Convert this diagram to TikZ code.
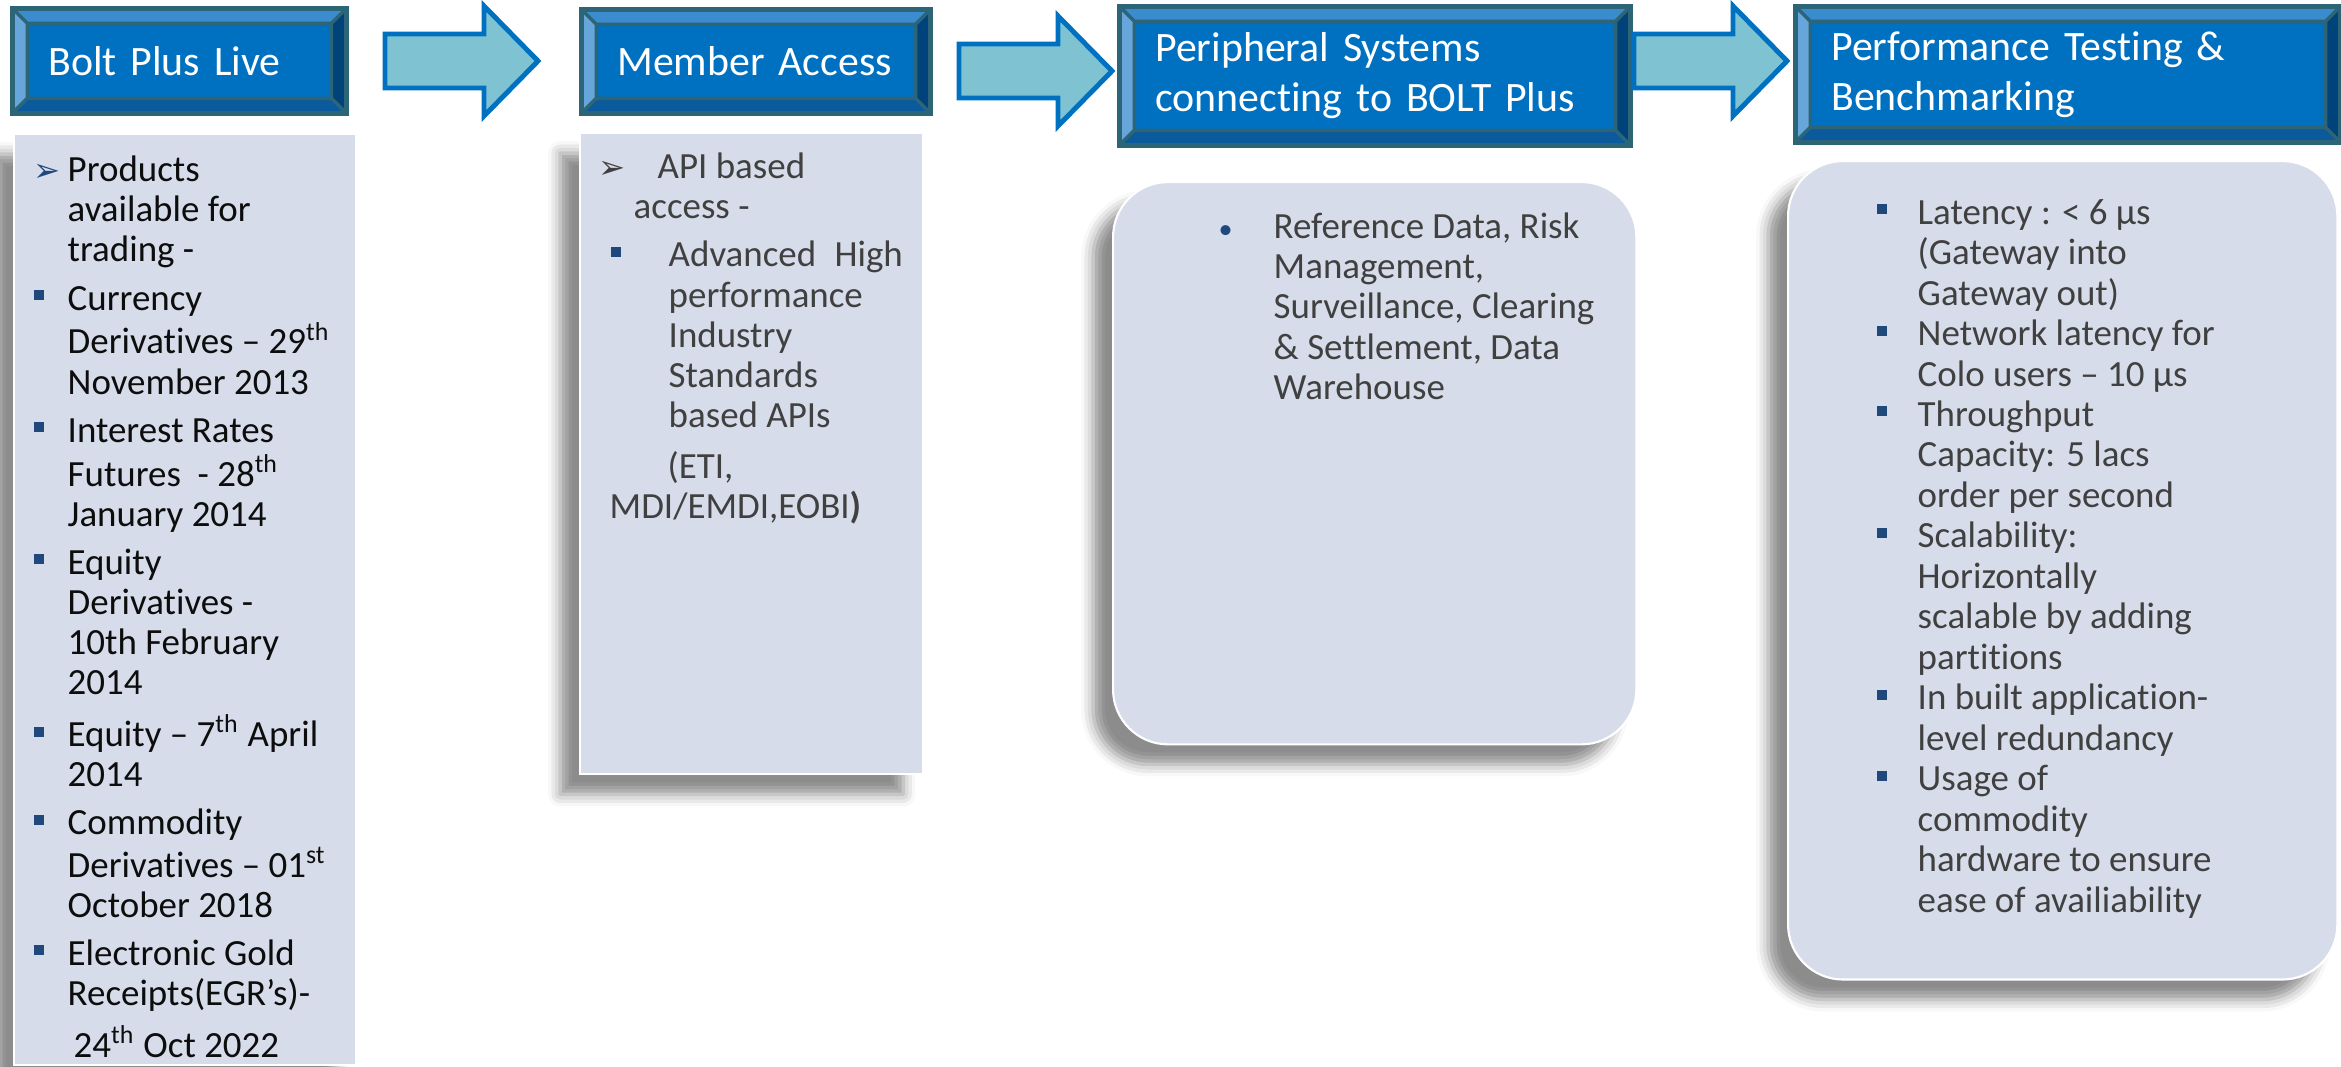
\documentclass[tikz,border=0pt]{standalone}
\usepackage{fontspec}
\setmainfont{Carlito}[Ligatures=NoCommon]
\newfontfamily\dingfont{DejaVu Sans}
\usepackage{array}
\usetikzlibrary{calc,shadows.blur}

\definecolor{hdface}{HTML}{0070C0}
\definecolor{hdedge}{HTML}{2B6577}
\definecolor{bvtop}{HTML}{3A8CCF}
\definecolor{bvleft}{HTML}{67A6DA}
\definecolor{bvright}{HTML}{00427A}
\definecolor{bvbot}{HTML}{0A5A9C}
\definecolor{arrfill}{HTML}{7FC3D3}
\definecolor{panelfill}{HTML}{D6DCE9}
\definecolor{bulblue}{HTML}{1F497D}
\definecolor{txtblack}{HTML}{0D0D0D}
\definecolor{txtgray}{HTML}{404040}

\newcommand{\headfont}{\fontsize{11.9}{14.2}\selectfont}
\newcommand{\bodyfont}{\fontsize{10.5}{11.4}\selectfont}
\newcommand{\sqb}{\textcolor{bulblue}{\rule[0.1cm]{0.1cm}{0.1cm}}}
\newcommand{\dotb}{\textcolor{bulblue}{\fontsize{8}{9}\selectfont •}}
\newcommand{\arrb}[1]{\textcolor{#1}{\dingfont\fontsize{9.2}{9}\selectfont ➢}}

\tikzset{
    head/.style = {draw=hdedge, line width=1.3pt, fill=hdface, rectangle,
        anchor=north west, inner xsep=0.36cm, inner ysep=0pt,
        align=left, text=white, font=\headfont, bevel},
    bevel/.style = {path picture={
        \coordinate (p1) at (path picture bounding box.north west);
        \coordinate (p2) at (path picture bounding box.north east);
        \coordinate (p3) at (path picture bounding box.south east);
        \coordinate (p4) at (path picture bounding box.south west);
        \coordinate (q1) at ($(p1)+(15,15)$);
        \coordinate (q2) at ($(p2)+(-15,15)$);
        \coordinate (q3) at ($(p3)+(-15,-15)$);
        \coordinate (q4) at ($(p4)+(15,-15)$);
        \fill[bvtop] (p1) -- (p2) -- (q2) -- (q1) -- cycle;
        \fill[bvright] (p2) -- (p3) -- (q3) -- (q2) -- cycle;
        \fill[bvbot] (p3) -- (p4) -- (q4) -- (q3) -- cycle;
        \fill[bvleft] (p4) -- (p1) -- (q1) -- (q4) -- cycle;
        \draw[hdedge, line width=1pt] (q1) -- (q2) -- (q3) -- (q4) -- cycle
            (p1) -- (q1) (p2) -- (q2) (p3) -- (q3) (p4) -- (q4);
    }},
    bigarrow/.style = {draw=hdface, fill=arrfill, line width=1.4pt, line join=miter},
    panel/.style = {fill=panelfill, draw=white, line width=0.6pt, anchor=north west,
        inner sep=0pt,
        blur shadow={shadow xshift=-0.2cm, shadow yshift=-0.2cm,
            shadow blur radius=0.12cm, shadow opacity=45}},
    listtext/.style = {anchor=north west, inner sep=0pt, align=left, font=\bodyfont}
}

\def\blockarrow{%
    -- ++(0,-27) -- ++(99,0) -- ++(0,-28) -- ++(54,55) -- ++(-54,55) -- ++(0,-28) -- ++(-99,0) -- cycle
}

\begin{document}
\begin{tikzpicture}[x=0.01cm, y=-0.01cm]
    \useasboundingbox (0,0) rectangle (2341,1067);
    % headers
    \foreach \n/\x/\y/\w/\h/\tw/\txt in {
        1/10/6/3.34/1.05/2.62/{Bolt Plus Live},
        2/579/7/3.49/1.04/2.77/{Member Access},
        3/1117/4/5.11/1.39/4.39/{Peripheral Systems\\connecting to BOLT Plus},
        4/1793/4/5.45/1.36/4.73/{Performance Testing \&\\Benchmarking}}{
        \node [head, minimum width=\w cm, minimum height=\h cm, text width=\tw cm] (head\n) at (\x,\y) {\txt};
    }
    \foreach \n/\x/\y in {1/385/61, 2/959/71, 3/1634/61}{
        \coordinate (arrow\n) at (\x,\y);
        \draw [bigarrow] (arrow\n) \blockarrow;
    }
    % panels
    \node [panel, minimum width=3.42cm, minimum height=9.30cm] (panel1) at (13,133) {};
    \node [panel, minimum width=3.43cm, minimum height=6.41cm] (panel2) at (579,132) {};
    \node [panel, rounded corners=0.55cm, minimum width=5.23cm, minimum height=5.62cm] (panel3) at (1112,181) {};
    \node [panel, rounded corners=0.55cm, minimum width=5.49cm, minimum height=8.18cm] (panel4) at (1787,160) {};
    % texts
    \node [listtext, text=txtblack] (list1) at (33,153) {%
        \begin{tabular}{@{}p{0.34cm}@{}l@{}}
            \arrb{bulblue} & Products\\
            & available for\\
            & trading -\\[0.08cm]
            \sqb & Currency\\
            & Derivatives – 29\textsuperscript{th}\\
            & November 2013\\[0.08cm]
            \sqb & Interest Rates\\
            & Futures\ \ - 28\textsuperscript{th}\\
            & January 2014\\[0.08cm]
            \sqb & Equity\\
            & Derivatives -\\
            & 10th February\\
            & 2014\\[0.08cm]
            \sqb & Equity – 7\textsuperscript{th} April\\
            & 2014\\[0.08cm]
            \sqb & Commodity\\
            & Derivatives – 01\textsuperscript{st}\\
            & October 2018\\[0.08cm]
            \sqb & Electronic Gold\\
            & Receipts(EGR’s)-\\[0.08cm]
            & \hspace*{0.06cm}24\textsuperscript{th} Oct 2022
        \end{tabular}};
    \node [listtext, text=txtgray] (list2) at (598,150) {%
        \begin{tabular}{@{}l@{}}
            \makebox[0.59cm][l]{\arrb{txtgray}}API based\\
            \hspace*{0.35cm}access -\\[0.08cm]
            \hspace*{0.12cm}\makebox[0.58cm][l]{\sqb}\makebox[2.34cm][s]{Advanced\hfill High}\\
            \hspace*{0.70cm}performance\\
            \hspace*{0.70cm}Industry\\
            \hspace*{0.70cm}Standards\\
            \hspace*{0.70cm}based APIs\\[0.11cm]
            \hspace*{0.69cm}(ETI,\\
            \hspace*{0.11cm}MDI/EMDI,EOBI\textbf{)}
        \end{tabular}};
    \node [listtext, text=txtgray] (list3) at (1218,210) {%
        \begin{tabular}{@{}p{0.55cm}@{}l@{}}
            \dotb & Reference Data, Risk\\
            & Management,\\
            & Surveillance, Clearing\\
            & \& Settlement, Data\\
            & Warehouse
        \end{tabular}};
    \node [listtext, text=txtgray] (list4) at (1876,195) {%
        \renewcommand{\arraystretch}{1.01}%
        \begin{tabular}{@{}p{0.41cm}@{}l@{}}
            \sqb & Latency : < 6 µs\\
            & (Gateway into\\
            & Gateway out)\\
            \sqb & Network latency for\\
            & Colo users – 10 µs\\
            \sqb & Throughput\\
            & Capacity: 5 lacs\\
            & order per second\\
            \sqb & Scalability:\\
            & Horizontally\\
            & scalable by adding\\
            & partitions\\
            \sqb & In built application-\\
            & level redundancy\\
            \sqb & Usage of\\
            & commodity\\
            & hardware to ensure\\
            & ease of availiability
        \end{tabular}};
\end{tikzpicture}
\end{document}
